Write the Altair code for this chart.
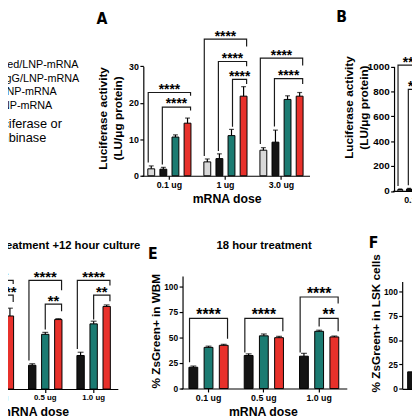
import altair as alt
import pandas as pd

FONT = "Liberation Sans, Arial, Helvetica, sans-serif"
NARROW = "Liberation Sans Narrow, DejaVu Sans Condensed, Arial Narrow, sans-serif"

# ---------------- data ----------------
SERIES = ["Unmodified/LNP-mRNA", "Isotype IgG/LNP-mRNA", "CD117/LNP-mRNA", "ACK2/LNP-mRNA"]
COLORS = ["#d9d9d9", "#141414", "#1b7b72", "#e8312b"]
SERIES_BOTTOM = SERIES[1:]

# Panel A: luciferase activity (LU/ug protein)
A_GROUPS = ["0.1 ug", "1 ug", "3.0 ug"]
A_MEAN = [[1.9, 1.8, 10.6, 14.4], [3.8, 4.7, 11.0, 21.8], [7.0, 9.2, 20.9, 21.8]]
A_SEM = [[0.8, 0.5, 0.6, 1.4], [0.8, 1.3, 1.7, 2.6], [0.7, 3.3, 1.0, 1.0]]
# (group, from series, to series, bracket top, left leg end, right leg end, label)
A_BRACKETS = [
    (0, 0, 3, 22.8, 3.6, 21.9, "****"),
    (0, 1, 3, 18.8, 3.1, 17.9, "****"),
    (1, 0, 3, 37.4, 5.4, 35.4, "****"),
    (1, 1, 3, 31.3, 6.8, 30.0, "****"),
    (1, 2, 3, 26.4, 13.4, 25.1, "****"),
    (2, 0, 3, 32.2, 8.7, 30.2, "****"),
    (2, 1, 3, 26.6, 13.5, 25.1, "****"),
]

# Panel B (only the visible part)
B_GROUPS = ["0.1 ug", "1 ug", "3.0 ug"]
B_MEAN = [[12, 16, None, None]]
B_SEM = [[4, 5, None, None]]
B_BRACKETS = [
    (0, 0, 3, 1010, 40, 990, "****"),
    (0, 1, 3, 815, 45, 795, "****"),
]

# Panel D: 18 hour treatment +12 hour culture
D_GROUPS = ["0.1 ug", "0.5 ug", "1.0 ug"]
D_MEAN = [[None, 28.5, 71.3], [23.2, 53.4, 67.8], [32.7, 63.6, 80.6]]
D_SEM = [[None, None, 7.6], [1.5, 1.9, 0.9], [3.2, 2.6, 1.5]]
D_BRACKETS = [
    (0, 0, 2, 106.0, 30.0, 102.5, "****"),
    (0, 1, 2, 91.7, 33.0, 85.0, "****"),
    (1, 0, 2, 106.0, 27.9, 96.5, "****"),
    (1, 1, 2, 82.8, 58.2, 75.8, "**"),
    (2, 0, 2, 106.0, 39.0, 101.0, "****"),
    (2, 1, 2, 91.7, 67.8, 85.6, "**"),
]

# Panel E: 18 hour treatment, % ZsGreen+ in WBM
E_GROUPS = ["0.1 ug", "0.5 ug", "1.0 ug"]
E_MEAN = [[20.8, 40.2, 42.2], [32.3, 51.5, 49.7], [31.6, 55.9, 50.4]]
E_SEM = [[1.2, 1.2, 1.0], [1.6, 1.8, 1.3], [2.8, 1.1, 0.9]]
E_BRACKETS = [
    (0, 0, 2, 68.6, 25.6, 48.6, "****"),
    (1, 0, 2, 68.6, 35.2, 55.9, "****"),
    (2, 0, 2, 89.4, 35.2, 83.0, "****"),
    (2, 1, 2, 68.6, 60.7, 55.9, "**"),
]

# Panel F (only the visible part)
F_GROUPS = ["0.1 ug", "0.5 ug", "1.0 ug"]
F_MEAN = [[17.4, None, None]]
F_SEM = [[None, None, None]]

LEGEND_LINES = SERIES
NOTE_LINES = ["Luciferase or", "Cre recombinase"]

# ---------------- helpers ----------------
CSCALE = alt.Scale(domain=SERIES, range=COLORS)


def slots(series):
    out = []
    for i, s in enumerate(series):
        if i:
            out.append(series[i - 1] + " | " + s)
        out.append(s)
    return out


def bar_frame(groups, series, means, sems):
    rows = []
    for g, ms, ss in zip(groups, means, sems):
        for s, m, e in zip(series, ms, ss):
            if m is None:
                continue
            rows.append({"group": g, "series": s, "slot": s, "mean": m,
                         "hi": (m + e) if e is not None else None})
    return pd.DataFrame(rows)


def bracket_frames(groups, series, brackets):
    sl = slots(series)
    pts, stars = [], []
    for k, (gi, i, j, top, lb, rb, lab) in enumerate(brackets):
        g = groups[gi]
        seq = [(series[i], lb), (series[i], top), (series[j], top), (series[j], rb)]
        for n, (slot, v) in enumerate(seq):
            pts.append({"group": g, "slot": slot, "v": v, "id": k, "n": n})
        stars.append({"group": g, "slot": sl[i + j], "v": top, "label": lab})
    return pd.DataFrame(pts), pd.DataFrame(stars)


def panel(groups, series, means, sems, brackets, xr, offr, yd, yr,
          bar_w, cap_w, star_size, star_dy, xaxis, yaxis):
    """Returns a list of unit charts that all use identical explicit scales."""
    sl = slots(series)
    xs = alt.Scale(domain=groups, range=xr, paddingInner=0, paddingOuter=0)
    os_ = alt.Scale(domain=sl, range=offr, paddingInner=0, paddingOuter=0)
    ys = alt.Scale(domain=yd, range=yr, nice=False, zero=False)

    def X(ax):
        return alt.X("group:N", scale=xs, axis=ax)

    XO = alt.XOffset("slot:N", scale=os_)
    df = bar_frame(groups, series, means, sems)
    layers = [
        alt.Chart(df).mark_bar(width=bar_w, stroke="black", strokeWidth=1).encode(
            x=X(xaxis), xOffset=XO,
            y=alt.Y("mean:Q", scale=ys, axis=yaxis),
            color=alt.Color("series:N", scale=CSCALE, legend=None),
        )
    ]
    err = df.dropna(subset=["hi"])
    if len(err):
        layers.append(
            alt.Chart(err).mark_rule(color="black", strokeWidth=1.2).encode(
                x=X(None), xOffset=XO,
                y=alt.Y("mean:Q", scale=ys, axis=None), y2="hi:Q"))
        layers.append(
            alt.Chart(err).mark_tick(orient="horizontal", size=cap_w, thickness=1.2,
                                     color="black").encode(
                x=X(None), xOffset=XO, y=alt.Y("hi:Q", scale=ys, axis=None)))
    if brackets:
        pts, stars = bracket_frames(groups, series, brackets)
        layers.append(
            alt.Chart(pts).mark_line(color="#1a1a1a", strokeWidth=1.2).encode(
                x=X(None), xOffset=XO, y=alt.Y("v:Q", scale=ys, axis=None),
                detail="id:N", order="n:Q"))
        layers.append(
            alt.Chart(stars).mark_text(font=FONT, fontSize=star_size, fontWeight="bold",
                                       baseline="alphabetic", dy=star_dy,
                                       color="black").encode(
                x=X(None), xOffset=XO, y=alt.Y("v:Q", scale=ys, axis=None),
                text="label:N"))
    return layers


def xaxis(offset, title_x, label_size=9):
    return alt.Axis(orient="bottom", offset=offset, labelAngle=0, labelFontSize=label_size,
                    title="mRNA dose", titleX=title_x, titleY=23, titleBaseline="middle",
                    titleAlign="center", titleFontSize=12.5)


def yaxis(offset, values, title, title_x, title_y, label_size=9, line_h=16):
    return alt.Axis(orient="left", offset=offset, values=values, format="d",
                    labelFontSize=label_size, title=title, titleX=title_x, titleY=title_y,
                    titleBaseline="middle", titleAlign="center", titleLineHeight=line_h,
                    titleFontSize=12)


def note(text, x, y, size, weight="normal", align="center", font=FONT):
    return alt.Chart(alt.Data(values=[{}])).mark_text(
        text=text, font=font, fontSize=size, fontWeight=weight, align=align,
        baseline="middle", color="black").encode(x=alt.value(x), y=alt.value(y))


LU_TITLE = ["Luciferase activity", "(LU/\u03bcg protein)"]

pA = panel(A_GROUPS, SERIES, A_MEAN, A_SEM, A_BRACKETS,
           [136, 307.5], [7.0, 50.17], [0, 30], [167, 55.3], 7, 5, 14, 1.4,
           xaxis(-245, 223), yaxis(-138, [0, 10, 20, 30], LU_TITLE, -42, 108))
pB = panel(B_GROUPS, SERIES, B_MEAN, B_SEM, B_BRACKETS,
           [392, 542], [5.75, 37.25], [0, 1000], [182.5, 55.5], 5, 4, 14, 1.4,
           xaxis(-229.5, 480), yaxis(-393.7, [0, 200, 400, 600, 800, 1000], LU_TITLE,
                                     -46, 97, 10, 15))
pD = panel(D_GROUPS, SERIES_BOTTOM, D_MEAN, D_SEM, D_BRACKETS,
           [-36, 112], [8.04, 41.29], [0, 110], [384.5, 269.55], 7.5, 6, 15, 1.8,
           xaxis(-27.5, 26.6, 8), None)
pE = panel(E_GROUPS, SERIES_BOTTOM, E_MEAN, E_SEM, E_BRACKETS,
           [176.3, 345.5], [8.83, 47.58], [0, 110], [384, 269.16], 9, 6, 16, 2,
           xaxis(-28, 260), yaxis(-178, [0, 25, 50, 75, 100], "% ZsGreen+ in WBM", -27, 325, 8.5))
pF = panel(F_GROUPS, SERIES_BOTTOM, F_MEAN, F_SEM, [],
           [402, 571.2], [6.2, 44.95], [0, 110], [384.3, 274.74], 9, 6, 16, 2,
           xaxis(-27.7, 500), yaxis(-402, [0, 25, 50, 75, 100], "% ZsGreen+ in LSK cells", -26.7, 317, 8.5))

notes = [
    note("A", 95.8, 7, 16, "bold", font=NARROW),
    note("B", 340.3, 5.3, 16, "bold", font=NARROW),
    note("E", 147.8, 247.3, 16, "bold", font=NARROW),
    note("F", 372.8, 235.7, 16, "bold", font=NARROW),
    note("18 hour treatment", 261.2, 238.7, 11.5, "bold"),
    note("18 hour treatment +12 hour culture", 40, 238.7, 11.5, "bold"),
]
for k, line in enumerate(LEGEND_LINES):
    notes.append(note(line, -44, 54 + 14 * k, 11, align="left"))
notes.append(note(NOTE_LINES[0], 55, 114, 13, align="right"))
notes.append(note(NOTE_LINES[1], 39, 129, 13, align="right"))

units = pA + pB + pD + pE + pF + notes

chart = alt.layer(*units).resolve_scale(
    x="independent", y="independent", xOffset="independent"
).resolve_axis(
    x="independent", y="independent"
).properties(
    width=412, height=412, padding=0, autosize=alt.AutoSizeParams(type="none")
).configure_view(stroke=None).configure_axis(
    grid=False, domainColor="black", tickColor="black", labelColor="black",
    titleColor="black", labelFont=FONT, titleFont=FONT, labelFontWeight="bold",
    titleFontWeight="bold", tickSize=3.5, domainWidth=1.2, tickWidth=1.2,
    labelPadding=1.5
)

chart.save("out.html", embed_options={"renderer": "svg", "actions": False})
